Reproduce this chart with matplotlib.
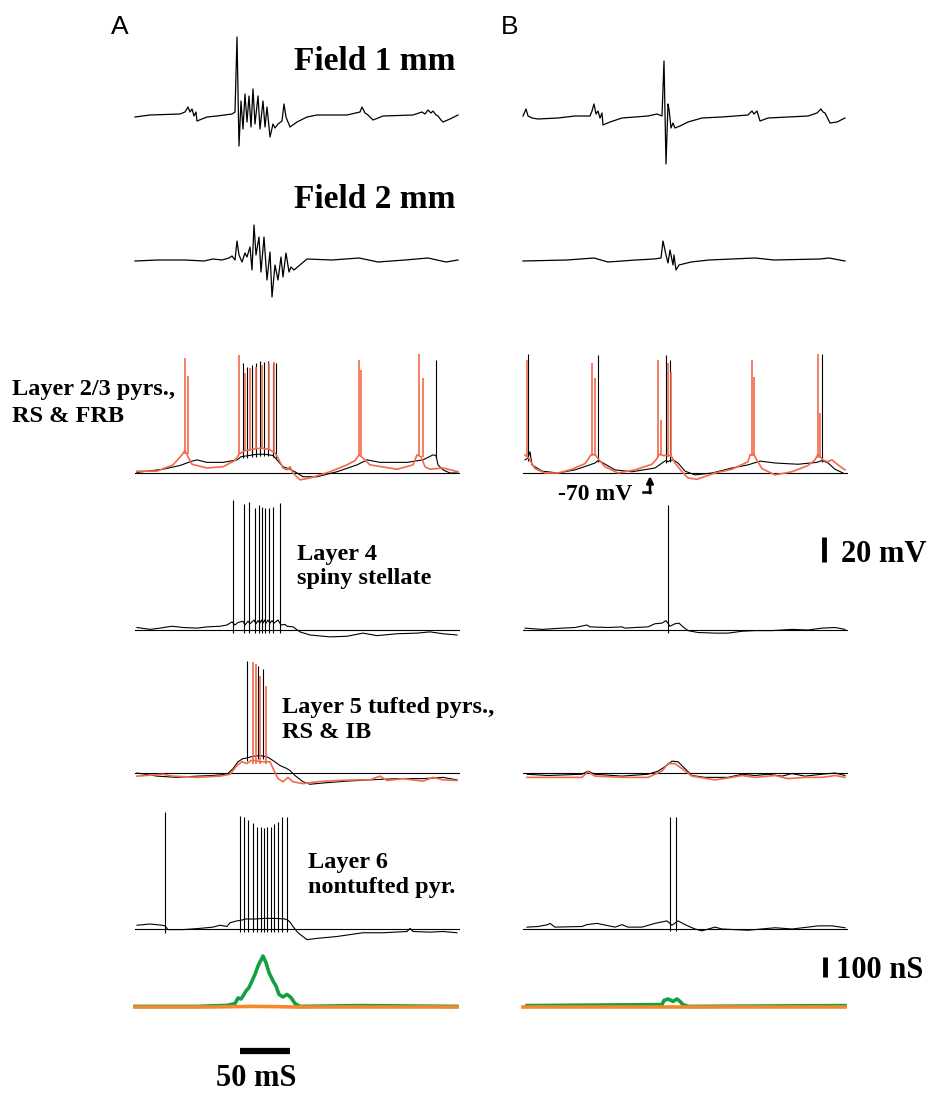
import matplotlib.pyplot as plt

plt.rcParams['font.family'] = ['Liberation Serif', 'DejaVu Serif']

W, H = 931, 1093

# ---- data (t in ms, fields in a.u., Vm in mV, g in nS) ----
field1_a = [(0, 0), (15, 2), (45, 3), (50, 5), (53, 10), (55, 5), (57, 8), (59, 1), (61, 5), (62, -4),
            (72, 0), (82, 1), (97, 3), (100, 5), (102, 80), (104, -29), (106, 16), (108, -12), (110, 23),
            (112, -5), (114, 21), (116, -10), (118, 28), (120, -7), (123, 21), (125, -12), (128, 16),
            (130, -10), (132, 10), (135, -20), (138, -7), (140, -11), (143, -7), (147, -4), (149, 13),
            (151, 0), (155, -10), (162, -5), (172, 0), (182, 2), (212, 2), (225, 5), (227, 10), (230, 4),
            (233, 2), (238, -3), (248, 1), (278, 2), (287, 5), (290, 3), (293, 7), (296, 4), (298, 6),
            (301, 2), (303, 1), (306, -3), (308, -5), (315, -2), (323, 2)]
field1_b = [(0, 1), (3, 8), (5, 1), (9, -1), (15, -2), (35, -1), (52, 1), (67, 1), (69, 6), (71, 13),
            (73, 3), (75, 6), (77, -1), (79, 4), (80, -8), (87, -5), (99, -1), (125, 1), (134, 3), (139, 1),
            (141, 56), (143, -47), (145, 13), (146, 8), (148, -11), (150, -6), (152, -11), (157, -9),
            (165, -5), (179, -1), (199, 0), (225, 2), (229, 6), (231, 3), (234, 6), (237, -4), (245, -1),
            (285, 1), (294, 4), (298, 8), (300, 5), (302, 4), (307, -6), (314, -5), (322, -1)]
field2_a = [(0, 0), (23, 1), (50, 1), (69, 0), (78, 2), (87, 1), (94, 3), (97, 5), (100, 1), (102, 20),
            (104, 6), (107, -1), (110, 8), (112, 4), (115, 14), (117, -9), (119, 36), (121, 6), (124, 24),
            (126, -11), (129, 24), (132, -19), (135, 9), (137, -36), (140, -4), (143, -19), (146, 4),
            (148, -16), (151, 8), (154, -11), (156, -6), (159, -9), (172, 2), (197, 1), (224, 3),
            (243, -1), (270, 1), (293, 3), (311, -1), (323, 1)]
field2_b = [(0, 0), (44, 1), (71, 3), (85, -1), (113, 1), (131, 2), (138, 3), (140, 20), (143, 6),
            (145, -2), (147, 11), (150, -4), (151, 6), (153, -9), (156, -4), (168, -1), (186, 1),
            (232, 3), (251, 1), (297, 2), (306, 3), (322, 0)]

l23_a_red = [(2, -68.5), (22, -68.5), (38, -63.5), (47, -55.5), (50, -52), (53, -57), (57, -63), (72, -66),
             (88, -65), (100, -60), (104, -55), (110, -52), (118, -51), (126, -50), (134, -51), (140, -54),
             (143, -58), (148, -66), (152, -67.5), (155, -65), (158, -70), (165, -75.5), (175, -74),
             (195, -69), (212, -63.5), (220, -60), (224, -55.5), (228, -58), (235, -63.5), (262, -67),
             (278, -63.5), (282, -55.5), (286, -57), (290, -65), (295, -67), (308, -66), (323, -69)]
l23_a_red_spk = [(50, -55, 22), (52.5, -55, 7.5), (104, -55, 24.5), (110, -52, 10), (115, -52, 14),
                 (121, -51, 15), (127, -51, 16.5), (134, -51, 18), (139, -53, 19), (224, -56, 20.5),
                 (226, -56, 12.5), (284, -56, 25), (288, -57, 6)]
l23_a_blk = [(2, -69.5), (28, -67), (45, -64), (57, -60.5), (62, -59.5), (72, -61.5), (88, -61.5),
             (102, -59.5), (106, -57), (114, -56), (122, -55), (130, -55), (138, -56), (142, -59.5),
             (148, -65), (155, -67), (162, -70), (168, -73), (182, -73), (202, -69), (222, -63.5),
             (232, -59.5), (245, -61.5), (272, -61.5), (288, -59.5), (298, -55.5), (301, -56), (303, -63.5),
             (308, -67.5), (315, -70), (323, -70)]
l23_a_blk_spk = [(108, -58, 18), (112, -58, 15), (117, -57, 16.5), (121, -57, 18), (125, -56, 19.5),
                 (129, -56, 19), (133, -56, 19.5), (138, -57, 18), (141, -58, 18), (301, -58, 20.5)]
l23_b_red = [(2, -55.5), (6, -58.5), (12, -66.5), (22, -70), (35, -70), (49, -67), (62, -62.5), (68, -55.5),
             (72, -55), (75, -58.5), (82, -65), (95, -70), (112, -67.5), (129, -63), (134, -58.5),
             (136, -55), (140, -56), (144, -56), (148, -56), (152, -62), (159, -69), (165, -74), (174, -75),
             (192, -70), (209, -67), (225, -61), (227, -55.5), (231, -55), (233, -58.5), (239, -66.5),
             (252, -71.5), (269, -69), (285, -64), (292, -59.5), (295, -55), (300, -59.5), (304, -61),
             (309, -59.5), (315, -63.5), (322, -67.5)]
l23_b_red_spk = [(4, -56, 20.5), (69, -56, 18), (72, -56, 6), (135, -57, 20.5), (138, -55, -27.5),
                 (145, -57, 18), (148, -57, 11), (229, -56, 20.5), (231, -56, 7), (295, -58, 25),
                 (297, -58, -22)]
l23_b_blk = [(2, -59.5), (5, -58), (7, -53), (9, -63.5), (19, -68.5), (35, -70), (52, -67.5), (65, -64),
             (72, -62), (75, -60), (79, -61.5), (92, -67.5), (109, -69), (132, -66), (140, -61.5),
             (143, -60), (145, -61), (147, -60), (150, -59.5), (155, -62), (162, -68.5), (172, -71.5),
             (189, -70), (209, -66), (225, -63.5), (237, -60.5), (252, -62), (275, -63), (294, -61.5),
             (299, -60), (305, -62), (312, -67), (320, -70)]
l23_b_blk_spk = [(5, -60, 25), (75, -61, 24.5), (143, -62, 24.5), (147, -61, 20.5), (299, -61, 25)]

l4_a = [(2, -68), (15, -69.5), (25, -68.5), (37, -67), (48, -68), (62, -68.5), (72, -67.5), (85, -67),
        (92, -66), (97, -63.5), (100, -66), (103, -64), (108, -63), (110, -66), (113, -63), (115, -65),
        (119, -62), (121, -65), (123, -62.5), (125, -64.5), (126.5, -62), (128, -64.5), (129.5, -62),
        (131, -64.5), (133, -62), (135, -64.5), (137, -62.5), (139, -64.5), (143, -62), (146, -66),
        (150, -65.5), (152, -67), (158, -67.5), (165, -71.5), (175, -74), (195, -75.5), (212, -75),
        (228, -72.5), (242, -74.5), (262, -73), (282, -72.5), (295, -71.5), (308, -73), (322, -74)]
l4_a_spk = [(98, -72.5, 34), (109, -72.5, 31), (114, -72.5, 32.5), (120, -72.5, 28), (124, -72.5, 30),
            (127, -72.5, 28.5), (130, -72.5, 27.5), (134, -72.5, 28), (138, -72.5, 28.5), (145, -72.5, 32)]
l4_b = [(2, -68.5), (19, -69.5), (39, -68.5), (52, -68), (64, -66), (67, -67.5), (85, -68), (99, -67.5),
        (102, -68.5), (112, -68), (125, -67.5), (132, -65), (139, -64.5), (143, -62.5), (147, -67),
        (152, -65), (156, -64.5), (160, -67.5), (165, -70.5), (175, -72), (192, -72.5), (205, -72.5),
        (219, -71), (232, -70.5), (249, -70.5), (269, -69.5), (285, -70), (299, -68.5), (312, -68),
        (322, -69.5)]
l4_b_spk = [(145, -72.5, 30)]

l5_a_blk = [(2, -70), (22, -72.5), (42, -73.5), (62, -72.5), (78, -72), (92, -71), (98, -66.5), (103, -61),
            (108, -58.5), (112, -58), (116, -57), (120, -56.5), (124, -56), (128, -56.5), (132, -57),
            (138, -60), (145, -64), (152, -66.5), (155, -68), (160, -72), (168, -77), (175, -79),
            (188, -78), (212, -76.5), (235, -75.5), (262, -74.5), (288, -74.5), (308, -73.5), (322, -75.5)]
l5_a_blk_spk = [(112, -60, 20), (123, -59, 16), (128, -59, 13.5)]
l5_a_red = [(2, -72.5), (28, -71), (38, -72.5), (62, -73.5), (85, -72.5), (95, -71), (102, -64), (107, -61),
            (112, -62.5), (116, -60), (120, -60), (125, -61), (130, -61), (135, -61), (139, -68),
            (143, -74.5), (148, -77), (153, -73.5), (158, -77), (168, -78.5), (182, -77), (202, -76),
            (222, -75.5), (235, -75.5), (245, -72.5), (252, -76), (268, -74.5), (288, -76.5), (298, -73.5),
            (308, -75.5), (322, -76)]
l5_a_red_spk = [(118, -63, 19), (121, -63, 17), (125, -63, 8), (131, -63, 0)]
l5_b_blk = [(4, -71), (25, -72), (59, -71), (65, -68.5), (72, -71), (99, -72.5), (125, -71), (135, -68.5),
            (142, -65), (149, -60.5), (155, -61), (160, -65), (169, -72), (182, -73.5), (205, -73.5),
            (219, -71), (232, -72), (245, -71), (259, -72.5), (269, -70.5), (282, -72.5), (299, -71),
            (312, -70), (322, -72)]
l5_b_red = [(4, -73.5), (59, -73.5), (65, -69), (72, -72.5), (99, -73.5), (125, -73.5), (139, -68.5),
            (145, -62.5), (152, -62.5), (159, -66.5), (169, -72.5), (192, -75.5), (209, -73.5), (219, -72),
            (232, -73.5), (252, -72), (265, -74.5), (282, -73.5), (299, -73.5), (312, -72), (322, -73.5)]

l6_a = [(2, -67), (15, -66), (27, -67), (30, -67.5), (33, -70.5), (48, -70.5), (65, -69.5), (78, -68.5),
        (85, -67), (92, -68), (95, -65), (102, -63.5), (106, -63), (111, -62), (120, -62), (130, -61.5),
        (140, -61.5), (150, -62), (153, -63), (155, -64.5), (158, -68), (163, -73), (172, -78.5),
        (182, -77.5), (202, -76), (228, -73), (248, -73), (272, -72), (275, -69.5), (278, -72),
        (295, -72.5), (308, -72), (322, -73)]
l6_a_spk = [(30, -73, 23.5), (105, -72, 20.5), (109, -72, 20), (113, -72, 17.5), (118, -72, 15),
            (122, -72, 12), (126, -72, 11.5), (129, -72, 11), (132, -72, 11.5), (136, -72, 12),
            (139, -72, 14), (143, -72, 16), (147, -72, 20), (152, -72, 20)]
l6_b = [(4, -68.5), (15, -68), (25, -66.5), (27, -65.5), (32, -68.5), (59, -68), (64, -66.5), (74, -65.5),
        (92, -68.5), (99, -66.5), (105, -68.5), (119, -68.5), (132, -65.5), (144, -63.5), (149, -67),
        (155, -63.5), (162, -66.5), (172, -70), (179, -71.5), (192, -68.5), (199, -70), (225, -71),
        (252, -69), (269, -70), (285, -68.5), (295, -67.5), (309, -67.5), (322, -69)]
l6_b_spk = [(147, -71.5, 20), (153, -71.5, 20)]

g_exc_a = [(0, 3), (62, 3), (92, 8), (100, 17), (103, 45), (106, 40), (108, 55), (111, 80), (114, 97),
           (117, 130), (120, 163), (123, 205), (128, 255), (131, 222), (134, 172), (138, 130), (141, 105),
           (144, 63), (148, 50), (152, 63), (156, 47), (160, 17), (165, 3), (225, 7), (322, 3)]
g_inh_a = [(0, 0), (75, 0), (100, 2), (118, 3), (140, 2), (160, 0), (322, 0)]
g_exc_b = [(4, 7), (139, 12), (141, 33), (145, 40), (150, 28), (154, 40), (157, 28), (160, 12), (165, 3),
           (322, 7)]
g_inh_b = [(0, 0), (322, 0)]

RED = '#f26a4b'
GREEN = '#13a043'
ORANGE = '#f4882a'

fig = plt.figure(figsize=(W / 100, H / 100), dpi=100)


def px_axes(x0, yb, scale, ref, above=170, below=70, w=325):
    # axes placed by pixel position, baseline yb; scale = px per data unit
    ax = fig.add_axes([x0 / W, 1 - (yb + below) / H, w / W, (above + below) / H])
    ax.set_xlim(0, w)
    ax.set_ylim(ref - below / scale, ref + above / scale)
    ax.axis('off')
    return ax


def draw(ax, pts, color='black', lw=0.8, spikes=None):
    t, v = zip(*pts)
    ax.plot(t, v, color=color, lw=lw, clip_on=False)
    if spikes:
        st, lo, hi = zip(*spikes)
        ax.vlines(st, lo, hi, color=color, lw=lw, clip_on=False)


def label(x, y, s, size, **kw):
    fig.text(x / W, 1 - y / H, s, fontsize=size, **kw)


XA, XB = 135, 523
MV = 1.25   # px per mV
NS = 0.2    # px per nS

for x0, f1, f2 in [(XA, field1_a, field2_a), (XB, field1_b, field2_b)]:
    draw(px_axes(x0, 117, 1.0, 0), f1, lw=0.9)
    draw(px_axes(x0, 261, 1.0, 0), f2, lw=0.9)

rows = [
    (473, [(l23_a_blk, 'black', l23_a_blk_spk), (l23_a_red, RED, l23_a_red_spk)],
          [(l23_b_blk, 'black', l23_b_blk_spk), (l23_b_red, RED, l23_b_red_spk)]),
    (630, [(l4_a, 'black', l4_a_spk)], [(l4_b, 'black', l4_b_spk)]),
    (773, [(l5_a_blk, 'black', l5_a_blk_spk), (l5_a_red, RED, l5_a_red_spk)],
          [(l5_b_blk, 'black', None), (l5_b_red, RED, None)]),
    (929, [(l6_a, 'black', l6_a_spk)], [(l6_b, 'black', l6_b_spk)]),
]
vm_axes = {}
for yb, tr_a, tr_b in rows:
    for x0, trs in [(XA, tr_a), (XB, tr_b)]:
        ax = px_axes(x0, yb, MV, -70)
        ax.axhline(-70, color='black', lw=0.8)
        for pts, c, spk in trs:
            draw(ax, pts, c, lw=1.2 if c == RED else 0.8, spikes=spk)
        vm_axes[(yb, x0)] = ax

# -70 mV marker
ax = vm_axes[(473, XB)]
ax.plot([120, 127], [-85.5, -85.5], color='black', lw=1.8, clip_on=False)
ax.annotate('', xy=(127, -72.5), xytext=(127, -86.2),
            arrowprops=dict(arrowstyle='-|>', lw=1.8, color='black', mutation_scale=10,
                            shrinkA=0, shrinkB=0), annotation_clip=False)

# 20 mV scale bar
ax = vm_axes[(630, XB)]
ax.vlines(301, -15.5, 4.5, color='black', lw=3.5, clip_on=False)

cond_axes = []
for x0, ge, gi in [(XA, g_exc_a, g_inh_a), (XB, g_exc_b, g_inh_b)]:
    ax = px_axes(x0, 1007, NS, 0)
    draw(ax, ge, GREEN, lw=2.6)
    draw(ax, gi, ORANGE, lw=2.6)
    cond_axes.append(ax)

cond_axes[1].vlines(302, 150, 250, color='black', lw=3.5, clip_on=False)
cond_axes[0].hlines(-218, 105, 155, color='black', lw=4.5, clip_on=False)

# labels
label(120, 34, 'A', 19, family='Liberation Sans', ha='center')
label(510, 34, 'B', 19, family='Liberation Sans', ha='center')
label(375, 70, 'Field 1 mm', 24, weight='bold', ha='center')
label(375, 208, 'Field 2 mm', 24, weight='bold', ha='center')
label(12, 395, 'Layer 2/3 pyrs.,', 17.5, weight='bold')
label(12, 422, 'RS & FRB', 17.5, weight='bold')
label(297, 560, 'Layer 4', 17.5, weight='bold')
label(297, 584, 'spiny stellate', 17.5, weight='bold')
label(282, 713, 'Layer 5 tufted pyrs.,', 17.5, weight='bold')
label(282, 738, 'RS & IB', 17.5, weight='bold')
label(308, 868, 'Layer 6', 17.5, weight='bold')
label(308, 893, 'nontufted pyr.', 17.5, weight='bold')
label(558, 500, '-70 mV', 17, weight='bold')
label(841, 562, '20 mV', 22, weight='bold')
label(836, 978, '100 nS', 22, weight='bold')
label(256, 1086, '50 mS', 22, weight='bold', ha='center')

fig.savefig('out.png', dpi=100)
